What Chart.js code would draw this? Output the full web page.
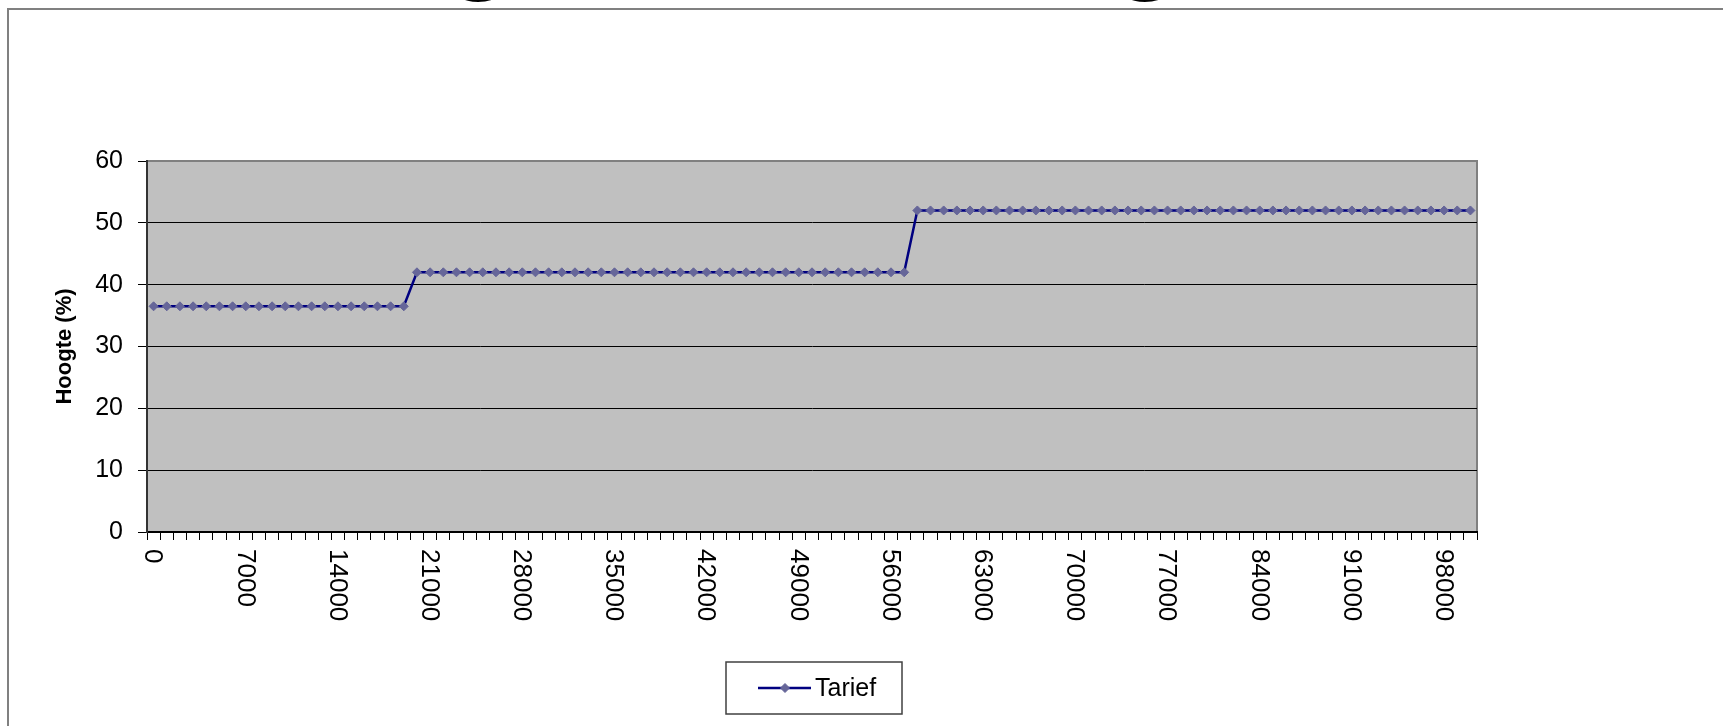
<!DOCTYPE html>
<html>
<head>
<meta charset="utf-8">
<title>Tarief</title>
<script src="https://cdn.jsdelivr.net/npm/chart.js@4.4.1/dist/chart.umd.min.js"></script>
<style>
  html, body { margin: 0; padding: 0; background: #fff; overflow: hidden; }
  #wrap { position: relative; width: 1723px; height: 726px; overflow: hidden; }
  #title { position: absolute; left: 210px; top: -126px; font: bold 120px "Liberation Sans", Arial, sans-serif; line-height: 120px; white-space: nowrap; color: #000; }
  #frame { position: absolute; left: 7px; top: 8px; width: 1800px; height: 800px; border: 2px solid #808080; }
  #chart { position: absolute; left: 0; top: 0; width: 1723px; height: 726px; }
</style>
</head>
<body>
<div id="wrap">
  <div id="title">Hoogte belastingtarief</div>
  <div id="frame"></div>
  <canvas id="chart" width="1723" height="726"></canvas>
</div>
<script>
// ===== DATA =====
const inkomen = [
    0, 1000, 2000, 3000, 4000, 5000, 6000, 7000, 8000, 9000,
    10000, 11000, 12000, 13000, 14000, 15000, 16000, 17000, 18000, 19000,
    20000, 21000, 22000, 23000, 24000, 25000, 26000, 27000, 28000, 29000,
    30000, 31000, 32000, 33000, 34000, 35000, 36000, 37000, 38000, 39000,
    40000, 41000, 42000, 43000, 44000, 45000, 46000, 47000, 48000, 49000,
    50000, 51000, 52000, 53000, 54000, 55000, 56000, 57000, 58000, 59000,
    60000, 61000, 62000, 63000, 64000, 65000, 66000, 67000, 68000, 69000,
    70000, 71000, 72000, 73000, 74000, 75000, 76000, 77000, 78000, 79000,
    80000, 81000, 82000, 83000, 84000, 85000, 86000, 87000, 88000, 89000,
    90000, 91000, 92000, 93000, 94000, 95000, 96000, 97000, 98000, 99000,
    100000
];

const tarief = [
    36.5, 36.5, 36.5, 36.5, 36.5, 36.5, 36.5, 36.5, 36.5, 36.5,
    36.5, 36.5, 36.5, 36.5, 36.5, 36.5, 36.5, 36.5, 36.5, 36.5,
    42, 42, 42, 42, 42, 42, 42, 42, 42, 42,
    42, 42, 42, 42, 42, 42, 42, 42, 42, 42,
    42, 42, 42, 42, 42, 42, 42, 42, 42, 42,
    42, 42, 42, 42, 42, 42, 42, 42, 52, 52,
    52, 52, 52, 52, 52, 52, 52, 52, 52, 52,
    52, 52, 52, 52, 52, 52, 52, 52, 52, 52,
    52, 52, 52, 52, 52, 52, 52, 52, 52, 52,
    52, 52, 52, 52, 52, 52, 52, 52, 52, 52,
    52
];

const yTicks = [0, 10, 20, 30, 40, 50, 60];
const labelStep = 7000;

const FONT = '"Liberation Sans", Arial, sans-serif';

// ===== PLOT BACKGROUND + BORDER =====
const plotArea = {
    id: 'plotArea',
    beforeDraw(chart) {
        const { ctx, chartArea: a } = chart;
        ctx.save();
        ctx.fillStyle = '#c0c0c0';
        ctx.fillRect(a.left, a.top, a.right - a.left, a.bottom - a.top);
        ctx.strokeStyle = '#808080';
        ctx.lineWidth = 2;
        ctx.strokeRect(a.left, a.top, a.right - a.left, a.bottom - a.top);
        ctx.restore();
    }
};

// ===== ROTATED X LABELS (read top to bottom) =====
const xLabels = {
    id: 'xLabels',
    afterDraw(chart) {
        const { ctx, chartArea, scales: { x } } = chart;
        ctx.save();
        ctx.font = '26px ' + FONT;
        ctx.fillStyle = '#000';
        ctx.textAlign = 'left';
        ctx.textBaseline = 'middle';
        chart.data.labels.forEach((lab, i) => {
            if (lab % labelStep !== 0) return;
            ctx.save();
            ctx.translate(x.getPixelForValue(i) - 1, chartArea.bottom + 17);
            ctx.rotate(Math.PI / 2);
            ctx.fillText(String(lab), 0, 0);
            ctx.restore();
        });
        ctx.restore();
    }
};

// ===== LEGEND BOX =====
const legendBox = {
    id: 'legendBox',
    afterDraw(chart) {
        const { ctx, chartArea } = chart;
        const ds = chart.data.datasets[0];
        const cx = (chartArea.left + chartArea.right) / 2;
        const left = Math.round(cx - 86), top = chartArea.bottom + 130;
        const w = 176, h = 52, mid = top + 26;
        ctx.save();
        ctx.fillStyle = '#fff';
        ctx.fillRect(left, top, w, h);
        ctx.strokeStyle = '#404040';
        ctx.lineWidth = 1.5;
        ctx.strokeRect(left, top, w, h);

        ctx.strokeStyle = ds.borderColor;
        ctx.lineWidth = ds.borderWidth;
        ctx.beginPath();
        ctx.moveTo(left + 32, mid);
        ctx.lineTo(left + 85, mid);
        ctx.stroke();

        ctx.fillStyle = ds.pointBackgroundColor;
        ctx.strokeStyle = ds.pointBorderColor;
        ctx.lineWidth = 1;
        Chart.helpers.drawPoint(ctx, { pointStyle: 'rectRot', radius: ds.pointRadius, borderWidth: 1 }, left + 59, mid);

        ctx.fillStyle = '#000';
        ctx.font = '25px ' + FONT;
        ctx.textAlign = 'left';
        ctx.textBaseline = 'middle';
        ctx.fillText(ds.label, left + 89, mid + 1);
        ctx.restore();
    }
};

// ===== CHART =====
new Chart(document.getElementById('chart'), {
    type: 'line',
    data: {
        labels: inkomen,
        datasets: [{
            label: 'Tarief',
            data: tarief,
            borderColor: '#000080',
            borderWidth: 2.5,
            tension: 0,
            fill: false,
            pointStyle: 'rectRot',
            pointRadius: 4.5,
            pointBorderWidth: 1,
            pointBackgroundColor: '#666699',
            pointBorderColor: '#666699'
        }]
    },
    options: {
        responsive: false,
        animation: false,
        devicePixelRatio: 1,
        layout: {
            padding: { left: 40, top: 161, right: 246, bottom: 186 }
        },
        plugins: {
            legend: { display: false },
            tooltip: { enabled: false }
        },
        scales: {
            x: {
                type: 'category',
                offset: true,
                afterFit: s => { s.height = 8; },
                ticks: { display: false, autoSkip: false },
                grid: {
                    offset: true,
                    drawOnChartArea: false,
                    drawTicks: true,
                    tickLength: 8,
                    color: '#000',
                    lineWidth: 1
                },
                border: { display: true, color: '#000', width: 2 }
            },
            y: {
                min: 0,
                max: 60,
                afterFit: s => { s.width = 107; },
                afterBuildTicks: s => { s.ticks = yTicks.map(v => ({ value: v })); },
                ticks: {
                    color: '#000',
                    padding: 15,
                    font: { family: FONT, size: 25 }
                },
                grid: {
                    color: c => (c.tick && c.tick.value === 60) ? 'rgba(0,0,0,0)' : '#000',
                    tickColor: '#000',
                    lineWidth: 1,
                    tickLength: 9
                },
                border: { display: true, color: '#333', width: 2 },
                title: {
                    display: true,
                    text: 'Hoogte (%)',
                    color: '#000',
                    font: { family: FONT, size: 22, weight: 'bold' },
                    padding: { top: 12, bottom: 0 }
                }
            }
        }
    },
    plugins: [plotArea, xLabels, legendBox]
});
</script>
</body>
</html>
